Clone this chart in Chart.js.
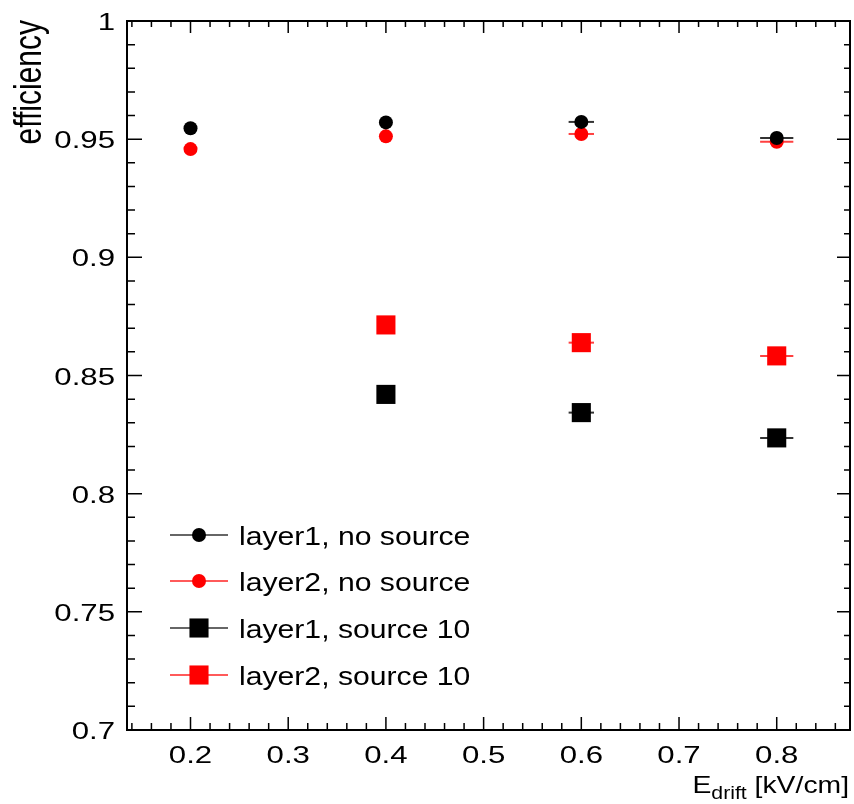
<!DOCTYPE html>
<html>
<head>
<meta charset="utf-8">
<script src="https://cdn.jsdelivr.net/npm/chart.js@4.4.1/dist/chart.umd.min.js"></script>
<style>
  html, body { margin: 0; padding: 0; background: #fff; overflow: hidden; }
  canvas { display: block; }
</style>
</head>
<body>
<canvas id="c" width="854" height="804"></canvas>
<script>
// E_drift values [kV/cm]
const fieldAll = [0.2, 0.4, 0.6, 0.8];
const fieldSrc = [0.4, 0.6, 0.8];

// efficiencies
const layer1NoSource = [0.9546, 0.9571, 0.9573, 0.9505];
const layer2NoSource = [0.9458, 0.9512, 0.9522, 0.9489];
const layer1Source10 = [0.8420, 0.8343, 0.8236];
const layer2Source10 = [0.8714, 0.8639, 0.8583];

// horizontal error half-widths
const xErrAll = [0.004, 0.006, 0.013, 0.017];
const xErrSrc = [0.006, 0.013, 0.017];

const xTicks = [0.2, 0.3, 0.4, 0.5, 0.6, 0.7, 0.8];
const yTicks = [0.7, 0.75, 0.8, 0.85, 0.9, 0.95, 1];

const legendLabels = ['layer1, no source', 'layer2, no source', 'layer1, source 10', 'layer2, source 10'];

function pts(xs, ys) {
    return xs.map((x, i) => ({ x: x, y: ys[i] }));
}

const FONT = '"Liberation Sans", Arial, Helvetica, sans-serif';

// text stretched sideways, the original's fonts are wide
function wideText(ctx, text, x, y, size, sx, align) {
    ctx.font = size + 'px ' + FONT;
    const w = ctx.measureText(text).width * sx;
    let left = x;
    if (align === 'right') left = x - w;
    if (align === 'center') left = x - w / 2;
    ctx.save();
    ctx.translate(left, y);
    ctx.scale(sx, 1);
    ctx.textAlign = 'left';
    ctx.fillText(text, 0, 0);
    ctx.restore();
    return w;
}

const fmt = v => String(Math.round(v * 100) / 100);

// draws frame, ROOT-style ticks, labels, error bars, legend and titles
const rootStyle = {
    id: 'rootStyle',
    beforeDatasetsDraw(chart) {
        const ctx = chart.ctx;
        const xs = chart.scales.x;
        const ys = chart.scales.y;
        ctx.save();
        chart.data.datasets.forEach(ds => {
            ctx.strokeStyle = ds.errColor;
            ctx.lineWidth = 2;
            ds.data.forEach((p, i) => {
                const e = ds.xErr[i];
                const py = ys.getPixelForValue(p.y);
                ctx.beginPath();
                ctx.moveTo(xs.getPixelForValue(p.x - e), py);
                ctx.lineTo(xs.getPixelForValue(p.x + e), py);
                ctx.stroke();
            });
        });
        ctx.restore();
    },
    afterDraw(chart) {
        const ctx = chart.ctx;
        const a = chart.chartArea;
        const xs = chart.scales.x;
        const ys = chart.scales.y;
        ctx.save();
        ctx.strokeStyle = '#000';
        ctx.lineWidth = 2;
        ctx.strokeRect(a.left, a.top, a.right - a.left, a.bottom - a.top);

        ctx.lineWidth = 1.5;
        ctx.beginPath();
        // x ticks every 0.02, major every 0.1
        for (let k = 7; k <= 43; k++) {
            const px = xs.getPixelForValue(k / 50);
            if (px < a.left || px > a.right) continue;
            const major = k % 5 === 0;
            ctx.moveTo(px, a.bottom);
            ctx.lineTo(px, a.bottom - (major ? 13 : 7));
            ctx.moveTo(px, a.top);
            ctx.lineTo(px, a.top + (major ? 12 : 6));
        }
        // y ticks every 0.01, major every 0.05
        for (let k = 70; k <= 100; k++) {
            const py = ys.getPixelForValue(k / 100);
            const major = k % 5 === 0;
            ctx.moveTo(a.left, py);
            ctx.lineTo(a.left + (major ? 15 : 8), py);
            ctx.moveTo(a.right, py);
            ctx.lineTo(a.right - (major ? 13 : 6), py);
        }
        ctx.stroke();

        // tick labels
        ctx.fillStyle = '#000';
        ctx.textBaseline = 'alphabetic';
        xTicks.forEach(v => {
            wideText(ctx, fmt(v), xs.getPixelForValue(v), 763, 24, 1.3, 'center');
        });
        yTicks.forEach(v => {
            wideText(ctx, fmt(v), 115, ys.getPixelForValue(v) + 9, 24, 1.3, 'right');
        });

        // legend
        const rows = [535, 581, 628, 675];
        chart.data.datasets.forEach((ds, i) => {
            const y = rows[i];
            ctx.strokeStyle = ds.legendColor;
            ctx.lineWidth = 2;
            ctx.beginPath();
            ctx.moveTo(170, y);
            ctx.lineTo(228, y);
            ctx.stroke();
            ctx.fillStyle = ds.backgroundColor;
            ctx.beginPath();
            Chart.helpers.drawPoint(ctx, {
                pointStyle: ds.pointStyle,
                radius: ds.pointRadius,
                rotation: 0,
                borderWidth: 0
            }, 199, y);
            ctx.fillStyle = '#000';
            ctx.textBaseline = 'alphabetic';
            wideText(ctx, legendLabels[i], 239, y + 10, 26, 1.16, 'left');
        });

        // y title, rotated and stretched
        ctx.save();
        ctx.translate(41, 20);
        ctx.rotate(-Math.PI / 2);
        ctx.scale(1, 1.3);
        ctx.font = '30px ' + FONT;
        ctx.textAlign = 'right';
        ctx.textBaseline = 'alphabetic';
        ctx.fillStyle = '#000';
        ctx.fillText('efficiency', 0, 0);
        ctx.restore();

        // x title with subscript, right aligned
        ctx.fillStyle = '#000';
        ctx.textBaseline = 'alphabetic';
        const sx = 1.18;
        ctx.font = '24px ' + FONT;
        const w1 = ctx.measureText('E').width * sx;
        const w3 = ctx.measureText(' [kV/cm]').width * sx;
        ctx.font = '18px ' + FONT;
        const w2 = ctx.measureText('drift').width * sx;
        const x0 = 849 - (w1 + w2 + w3);
        const base = 793;
        wideText(ctx, 'E', x0, base, 24, sx, 'left');
        wideText(ctx, 'drift', x0 + w1, base + 6, 18, sx, 'left');
        wideText(ctx, ' [kV/cm]', x0 + w1 + w2, base, 24, sx, 'left');
        ctx.restore();
    }
};

new Chart(document.getElementById('c'), {
    type: 'scatter',
    data: {
        datasets: [
            {
                label: legendLabels[0],
                data: pts(fieldAll, layer1NoSource),
                xErr: xErrAll,
                errColor: '#333',
                legendColor: '#666',
                backgroundColor: '#000',
                pointStyle: 'circle',
                pointRadius: 7,
                pointBorderWidth: 0
            },
            {
                label: legendLabels[1],
                data: pts(fieldAll, layer2NoSource),
                xErr: xErrAll,
                errColor: '#ff4040',
                legendColor: '#ff5a5a',
                backgroundColor: '#ff0000',
                pointStyle: 'circle',
                pointRadius: 7,
                pointBorderWidth: 0
            },
            {
                label: legendLabels[2],
                data: pts(fieldSrc, layer1Source10),
                xErr: xErrSrc,
                errColor: '#333',
                legendColor: '#666',
                backgroundColor: '#000',
                pointStyle: 'rect',
                pointRadius: 13.5,
                pointBorderWidth: 0
            },
            {
                label: legendLabels[3],
                data: pts(fieldSrc, layer2Source10),
                xErr: xErrSrc,
                errColor: '#ff4040',
                legendColor: '#ff5a5a',
                backgroundColor: '#ff0000',
                pointStyle: 'rect',
                pointRadius: 13.5,
                pointBorderWidth: 0
            }
        ]
    },
    options: {
        responsive: false,
        animation: false,
        layout: { padding: { top: 21, right: 4, left: 0, bottom: 0 }, autoPadding: false },
        plugins: {
            legend: { display: false },
            tooltip: { enabled: false }
        },
        scales: {
            x: {
                type: 'linear',
                min: 0.135,
                max: 0.875,
                afterBuildTicks: s => { s.ticks = xTicks.map(v => ({ value: v })); },
                afterFit: s => { s.height = 74; s.paddingLeft = 0; s.paddingRight = 0; },
                grid: { display: false, drawTicks: false },
                border: { display: false },
                ticks: { display: false }
            },
            y: {
                type: 'linear',
                min: 0.7,
                max: 1,
                afterBuildTicks: s => { s.ticks = yTicks.map(v => ({ value: v })); },
                afterFit: s => { s.width = 127; s.paddingTop = 0; s.paddingBottom = 0; },
                grid: { display: false, drawTicks: false },
                border: { display: false },
                ticks: { display: false }
            }
        }
    },
    plugins: [rootStyle]
});
</script>
</body>
</html>
